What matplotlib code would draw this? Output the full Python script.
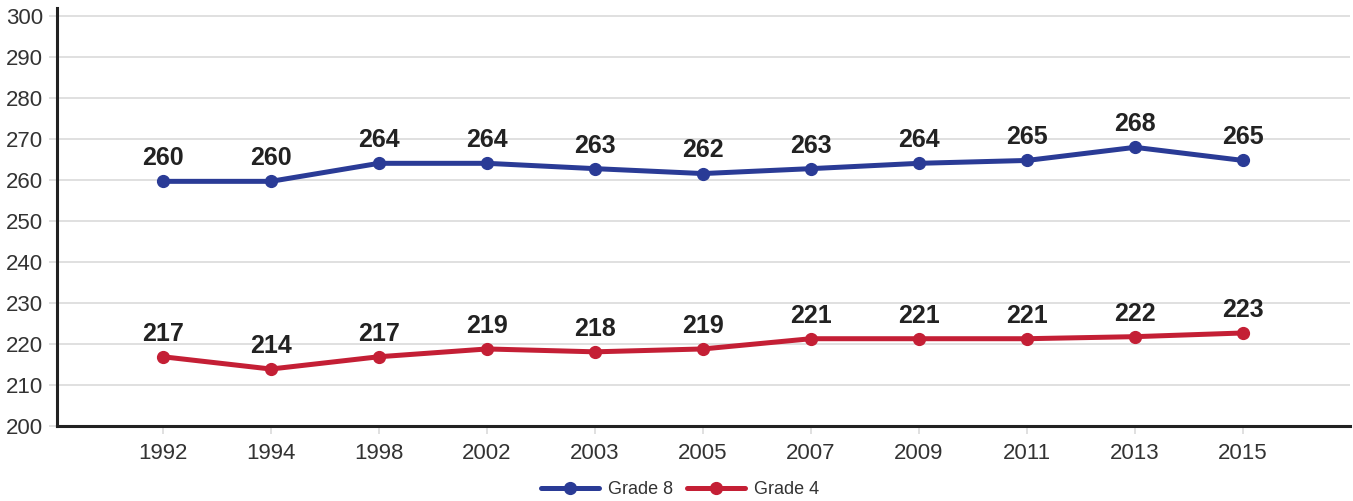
import numpy as np
import matplotlib.pyplot as plt

plt.rcParams['font.family'] = ['Liberation Sans', 'DejaVu Sans']

years = ['1992', '1994', '1998', '2002', '2003', '2005', '2007', '2009', '2011', '2013', '2015']
grade8 = [259.7, 259.7, 264.1, 264.1, 262.8, 261.6, 262.8, 264.1, 264.8, 268.0, 264.8]
grade4 = [216.9, 213.9, 216.9, 218.8, 218.1, 218.8, 221.3, 221.3, 221.3, 221.8, 222.7]
labels8 = [260, 260, 264, 264, 263, 262, 263, 264, 265, 268, 265]
labels4 = [217, 214, 217, 219, 218, 219, 221, 221, 221, 222, 223]

blue = '#2a3b96'
red = '#c41f35'

fig = plt.figure(figsize=(13.53, 5.01), dpi=100)
ax = fig.add_axes([57 / 1353, 1 - 426 / 501, 1293 / 1353, 418 / 501])

x = np.arange(len(years))
ax.plot(x, grade8, color=blue, lw=3.6, marker='o', ms=8.5, label='Grade 8', solid_capstyle='round')
ax.plot(x, grade4, color=red, lw=3.6, marker='o', ms=8.5, label='Grade 4', solid_capstyle='round')

for xi, v, t in zip(x, grade8, labels8):
    ax.annotate(str(t), (xi, v), xytext=(0, 8), textcoords='offset points',
                ha='center', va='bottom', fontsize=18, fontweight='bold', color='#222222')
for xi, v, t in zip(x, grade4, labels4):
    ax.annotate(str(t), (xi, v), xytext=(0, 8), textcoords='offset points',
                ha='center', va='bottom', fontsize=18, fontweight='bold', color='#222222')

ax.set_xlim(-0.98, 10.99)
ax.set_ylim(200, 302)
ax.set_yticks(range(200, 301, 10))
ax.set_xticks(x)
ax.set_xticklabels(years)
ax.grid(axis='y', color='#dddddd', lw=1.3)
ax.set_axisbelow(True)

for s in ['top', 'right']:
    ax.spines[s].set_visible(False)
ax.spines['left'].set_linewidth(2.2)
ax.spines['bottom'].set_linewidth(2.2)
ax.spines['left'].set_color('#222222')
ax.spines['bottom'].set_color('#222222')
ax.tick_params(axis='both', labelsize=16, colors='#dddddd', labelcolor='#333333', length=6, width=1.3)
ax.tick_params(axis='x', pad=6)
ax.tick_params(axis='y', pad=4)

leg = fig.legend(*ax.get_legend_handles_labels(), loc='center', bbox_to_anchor=(680 / 1353, 1 - 490 / 501),
                 ncol=2, frameon=False, fontsize=13, handlelength=3.2, columnspacing=0.8,
                 handletextpad=0.5, borderpad=0)
for t in leg.get_texts():
    t.set_color('#333333')

fig.savefig('out.png', dpi=100)
